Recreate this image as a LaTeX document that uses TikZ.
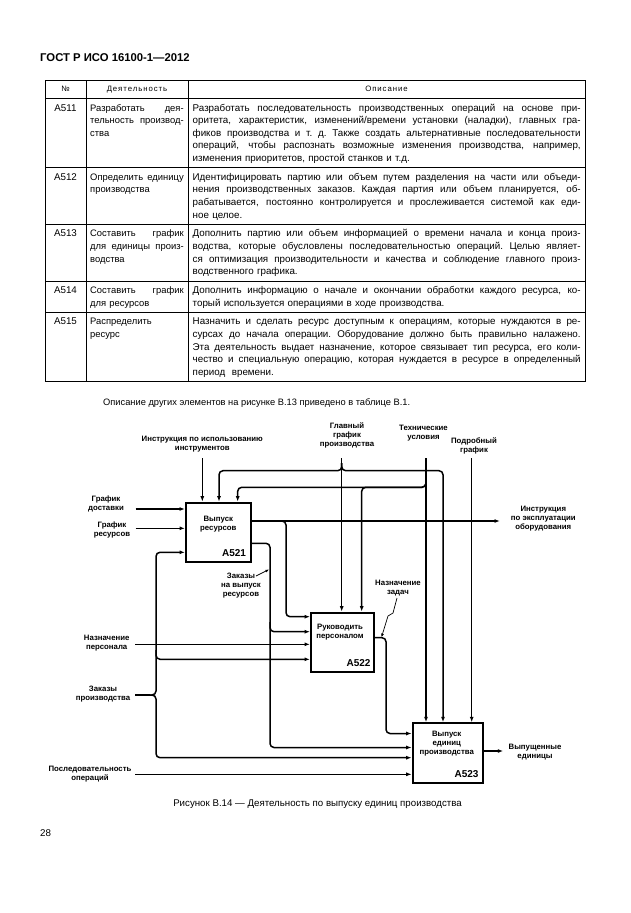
\documentclass[tikz,border=0pt]{standalone}
\usepackage{fontspec}
\setmainfont{Liberation Sans}
\usetikzlibrary{arrows.meta}
\newfontfamily\hdfont[LetterSpace=12]{Liberation Sans}
\newcommand{\tf}{\fontsize{9.8}{12.6}\selectfont}
\newcommand{\af}{\fontsize{9.4}{12.6}\selectfont}
\newcommand{\df}{\fontsize{7.8}{9}\selectfont\bfseries}
\newcommand{\jl}[2]{\leavevmode\hbox to #1{\spaceskip=0.278em plus 1fil minus 0.05em\xspaceskip=\spaceskip\strut#2}\par}
\newcommand{\jd}[1]{\jl{388pt}{#1}}
\newcommand{\ja}[1]{\jl{93.5pt}{#1}}
\tikzset{
 grid/.style={line width=0.7pt},
 cell/.style={anchor=north west, inner sep=0pt, align=left, font=\tf},
 dsc/.style={cell, text width=388pt},
 act/.style={cell, text width=93.5pt, font=\af},
 num/.style={anchor=north, inner sep=0pt, font=\tf},
 hd/.style={inner sep=0pt, font=\hdfont\fontsize{7.8}{9}\selectfont},
 fl/.style={line width=1.5pt, rounded corners=4pt},
 arr/.style={fl, -{Latex[length=5.5pt,width=4pt]}},
 fbox/.style={draw, line width=1.8pt, anchor=north west, inner sep=0pt},
 lbl/.style={align=center, inner sep=0pt, font=\df},
 ttl/.style={align=center, inner sep=0pt, font=\df},
 aid/.style={inner sep=0pt, font=\fontsize{10}{10}\selectfont\bfseries},
 sq/.style={line width=0.7pt, -{Latex[length=3.5pt,width=3pt]}},
}
\begin{document}
\begin{tikzpicture}[x=1pt,y=-1pt]
\useasboundingbox (0,0) rectangle (630,913);
\fill[white] (0,0) rectangle (630,913);

\node[anchor=base west, inner sep=0pt, font=\fontsize{11.3}{12}\selectfont\bfseries] (hdr) at (40,61) {ГОСТ Р ИСО 16100-1—2012};

% table grid
\draw[grid] (45,80) rectangle (585,381.5);
\foreach \y in {98.5,167.7,224.3,280.9,312.3} \draw[grid] (45,\y) -- (585,\y);
\foreach \x in {86,188} \draw[grid] (\x,80) -- (\x,381.5);

\node[hd] (h1) at (65.5,89.3) {№};
\node[hd] (h2) at (137,89.3) {Деятельность};
\node[hd] (h3) at (386.5,89.3) {Описание};

% row A511
\node[num] (n1) at (65.5,102) {\strut A511};
\node[act] (d1) at (90,102) {\ja{Разработать дея-}\ja{тельность производ-}\strut ства};
\node[dsc] (s1) at (192.5,102) {\jd{Разработать последовательность производственных операций на основе при-}\jd{оритета, характеристик, изменений/времени установки (наладки), главных гра-}\jd{фиков производства и т. д. Также создать альтернативные последовательности}\jd{операций, чтобы распознать возможные изменения производства, например,}\strut изменения приоритетов, простой станков и т.д.};

% row A512
\node[num] (n2) at (65.5,171.2) {\strut A512};
\node[act] (d2) at (90,171.2) {\ja{Определить единицу}\strut производства};
\node[dsc] (s2) at (192.5,171.2) {\jd{Идентифицировать партию или объем путем разделения на части или объеди-}\jd{нения производственных заказов. Каждая партия или объем планируется, об-}\jd{рабатывается, постоянно контролируется и прослеживается системой как еди-}\strut ное целое.};

% row A513
\node[num] (n3) at (65.5,227.8) {\strut A513};
\node[act] (d3) at (90,227.8) {\ja{Составить график}\ja{для единицы произ-}\strut водства};
\node[dsc] (s3) at (192.5,227.8) {\jd{Дополнить партию или объем информацией о времени начала и конца произ-}\jd{водства, которые обусловлены последовательностью операций. Целью являет-}\jd{ся оптимизация производительности и качества и соблюдение главного произ-}\strut водственного графика.};

% row A514
\node[num] (n4) at (65.5,284.4) {\strut A514};
\node[act] (d4) at (90,284.4) {\ja{Составить график}\strut для ресурсов};
\node[dsc] (s4) at (192.5,284.4) {\jd{Дополнить информацию о начале и окончании обработки каждого ресурса, ко-}\strut торый используется операциями в ходе производства.};

% row A515
\node[num] (n5) at (65.5,315.8) {\strut A515};
\node[act] (d5) at (90,315.8) {\strut Распределить\par\strut ресурс};
\node[dsc] (s5) at (192.5,315.8) {\jd{Назначить и сделать ресурс доступным к операциям, которые нуждаются в ре-}\jd{сурсах до начала операции. Оборудование должно быть правильно налажено.}\jd{Эта деятельность выдает назначение, которое связывает тип ресурса, его коли-}\jd{чество и специальную операцию, которая нуждается в ресурсе в определенный}\strut период\ \ времени.};

\node[anchor=base west, inner sep=0pt, font=\fontsize{9.3}{12}\selectfont] (para) at (103,405) {Описание других элементов на рисунке В.13 приведено в таблице В.1.};

% ---------------- diagram ----------------
\node[fbox, minimum width=65pt, minimum height=59pt] (a521) at (185,501.7) {};
\node[fbox, minimum width=63.3pt, minimum height=59pt] (a522) at (310,611.7) {};
\node[fbox, minimum width=70pt, minimum height=59.4pt] (a523) at (411.7,722.3) {};

\node[ttl] (t521) at (218.3,524) {Выпуск\\ресурсов};
\node[ttl] (t522) at (340,632.5) {Руководить\\персоналом};
\node[ttl] (t523) at (446.7,744) {Выпуск\\единиц\\производства};
\node[aid] (i521) at (234,553.5) {A521};
\node[aid] (i522) at (358.5,663.5) {A522};
\node[aid] (i523) at (466.5,774.3) {A523};

\node[lbl] (lInstr) at (202.3,444) {Инструкция по использованию\\инструментов};
\node[lbl] (lGlav) at (347,435.5) {Главный\\график\\производства};
\node[lbl] (lTech) at (423.5,433.3) {Технические\\условия};
\node[lbl] (lPodr) at (474,445.5) {Подробный\\график};
\node[lbl] (lDost) at (106,504.2) {График\\доставки};
\node[lbl] (lRes) at (112,530) {График\\ресурсов};
\node[lbl] (lExp) at (543.3,518.3) {Инструкция\\по эксплуатации\\оборудования};
\node[lbl] (lZvr) at (241,585.8) {Заказы\\на выпуск\\ресурсов};
\node[lbl] (lNz) at (398,588) {Назначение\\задач};
\node[lbl] (lNp) at (106.7,643.3) {Назначение\\персонала};
\node[lbl] (lZp) at (103,694.3) {Заказы\\производства};
\node[lbl] (lOut) at (535,752.5) {Выпущенные\\единицы};
\node[lbl] (lSeq) at (90,773.8) {Последовательность\\операций};

% connector end points
\coordinate (cInstr) at (202.3,458.3);
\coordinate (cGlav) at (341.7,458.3);
\coordinate (cTech) at (426,458.3);
\coordinate (cPodr) at (471.7,458.3);
\coordinate (cDost) at (135.7,509);
\coordinate (cRes) at (135.7,528.3);
\coordinate (cNp) at (135,644.3);
\coordinate (cZp) at (135,695);
\coordinate (cSeq) at (135,774.3);
\coordinate (eExp) at (500,521);
\coordinate (eOut) at (503.3,751);
\coordinate (gJ) at (341.7,463);
\coordinate (gL) at (219,470.7);
\coordinate (gR) at (443,470.7);
\coordinate (tJ) at (426,480.5);
\coordinate (tL) at (237.7,487.3);
\coordinate (tM) at (361.7,487.3);
\coordinate (b1s) at (276,521);
\coordinate (b1) at (286,616.7);
\coordinate (o2) at (250,543.3);
\coordinate (o2c) at (270,747.5);
\coordinate (o2s) at (270,622);
\coordinate (o2b) at (300,631.7);
\coordinate (zJ) at (150,695);
\coordinate (zT) at (156,552.3);
\coordinate (zB) at (156,757.7);
\coordinate (zM) at (156,650);
\coordinate (zMy) at (200,659.3);
\coordinate (o3) at (373.3,637.7);
\coordinate (p2) at (386,733.5);

% controls
\draw[arr] (cInstr) -- (cInstr |- a521.north);
\draw[arr] (cGlav) -- (cGlav |- a522.north);
\draw[arr] (gJ) |- (gL) -- (gL |- a521.north);
\draw[arr] (gJ) |- (gR) -- (gR |- a523.north);
\draw[arr] (cTech) -- (cTech |- a523.north);
\draw[arr] (tJ) |- (tL) -- (tL |- a521.north);
\draw[arr] (tJ) |- (tM) -- (tM |- a522.north);
\draw[arr] (cPodr) -- (cPodr |- a523.north);

% inputs
\draw[arr] (cDost) -- (cDost -| a521.west);
\draw[arr] (cRes) -- (cRes -| a521.west);
\draw[fl] (cZp) -- (zJ);
\draw[arr] (zJ) -| (zT) -- (zT -| a521.west);
\draw[arr] (zJ) -| (zB) -- (zB -| a523.west);
\draw[arr] (zM) |- (zMy -| a522.west);
\draw[arr] (cNp) -- (cNp -| a522.west);
\draw[arr] (cSeq) -- (cSeq -| a523.west);

% outputs
\draw[arr] (eExp -| a521.east) -- (eExp);
\draw[arr] (b1s) -| (b1) -- (b1 -| a522.west);
\draw[arr] (o2) -| (o2c) -- (o2c -| a523.west);
\draw[arr] (o2s) |- (o2b -| a522.west);
\draw[arr] (o3) -| (p2) -- (p2 -| a523.west);
\draw[arr] (eOut -| a523.east) -- (eOut);

% squiggles
\draw[sq] (256,576) -- (269,569.5);
\draw[sq] (397,598) -- (393,613) -- (388,616) -- (381.5,637.2);

\node[anchor=base, inner sep=0pt, font=\fontsize{9.7}{12}\selectfont] (cap) at (317.5,806) {Рисунок В.14 — Деятельность по выпуску единиц производства};
\node[anchor=base west, inner sep=0pt, font=\tf] (pg) at (40,836) {28};
\end{tikzpicture}
\end{document}
